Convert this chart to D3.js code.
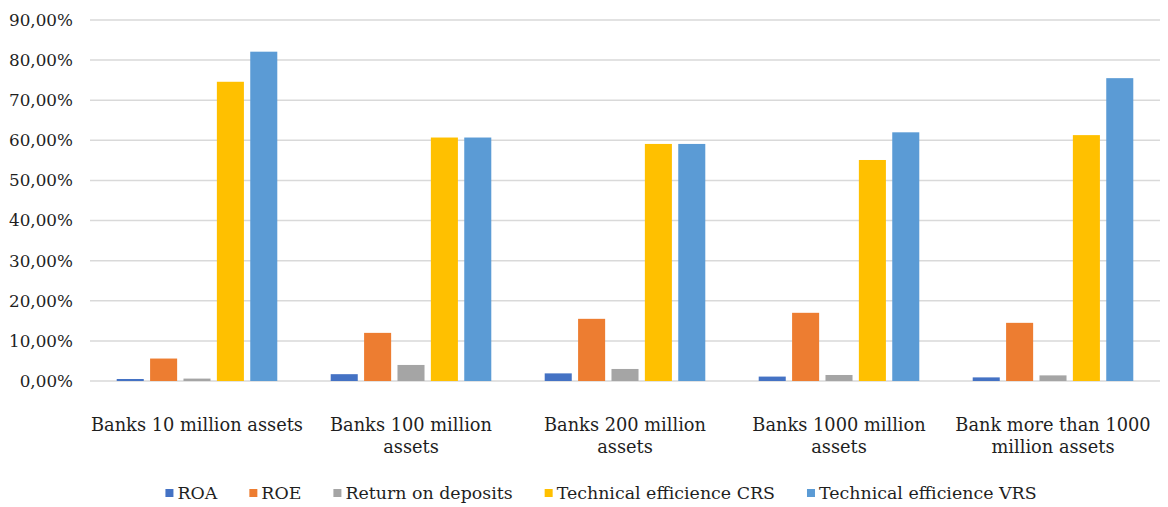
<!DOCTYPE html>
<html>
<head>
<meta charset="utf-8">
<script src="https://cdn.jsdelivr.net/npm/d3@7"></script>
<style>
  html, body { margin: 0; padding: 0; background: #fff; }
  svg text { font-family: "DejaVu Serif", serif; fill: #1f1f1f; }
</style>
</head>
<body>
<svg id="chart" width="1168" height="507"></svg>
<script>
const categories = ["Banks 10 million assets", "Banks 100 million assets", "Banks 200 million assets", "Banks 1000 million assets", "Bank more than 1000 million assets"];
const seriesNames = ["ROA", "ROE", "Return on deposits", "Technical efficience CRS", "Technical efficience VRS"];
const seriesColors = ["#4472C4", "#ED7D31", "#A5A5A5", "#FFC000", "#5B9BD5"];
const roa = [0.5, 1.7, 1.9, 1.1, 0.9];
const roe = [5.6, 12.0, 15.5, 17.0, 14.5];
const returnOnDeposits = [0.6, 4.0, 3.0, 1.5, 1.4];
const crs = [74.6, 60.7, 59.1, 55.1, 61.3];
const vrs = [82.1, 60.7, 59.1, 62.0, 75.5];
const yTicks = [0, 10, 20, 30, 40, 50, 60, 70, 80, 90];

const seriesValues = [roa, roe, returnOnDeposits, crs, vrs];

const svg = d3.select("#chart");
const m = { left: 90, right: 1160, top: 20, bottom: 381 };

const x0 = d3.scaleBand().domain(categories).range([m.left, m.right]).padding(0);
const x1 = d3.scaleBand().domain(seriesNames).range([0, x0.bandwidth()]).paddingInner(0.19).paddingOuter(0.8);
const y = d3.scaleLinear().domain([0, 90]).range([m.bottom, m.top]);

// gridlines
svg.append("g").selectAll("line").data(yTicks).join("line")
  .attr("x1", m.left).attr("x2", m.right)
  .attr("y1", d => y(d)).attr("y2", d => y(d))
  .attr("stroke", "#d9d9d9").attr("stroke-width", 1.5);

// y axis labels
const fmt = d => d3.format(".2f")(d).replace(".", ",") + "%";
const yAxis = d3.axisLeft(y).tickValues(yTicks).tickFormat(fmt).tickSize(0).tickPadding(17);
const yg = svg.append("g").attr("transform", `translate(${m.left},0)`).call(yAxis);
yg.select(".domain").remove();
yg.selectAll("text").attr("font-size", 16.8).attr("font-family", "DejaVu Serif").attr("fill", "#1f1f1f");

// bars
const groups = svg.append("g").selectAll("g").data(categories).join("g")
  .attr("transform", d => `translate(${x0(d)},0)`);
groups.selectAll("rect").data((c, ci) => seriesNames.map((s, si) => ({ s, si, v: seriesValues[si][ci] })))
  .join("rect")
  .attr("x", d => x1(d.s))
  .attr("width", x1.bandwidth())
  .attr("y", d => y(d.v))
  .attr("height", d => y(0) - y(d.v))
  .attr("fill", d => seriesColors[d.si]);

// category labels with wrapping
const catFont = 17.8;
const catG = svg.append("g");
categories.forEach(c => {
  const cx = x0(c) + x0.bandwidth() / 2;
  const t = catG.append("text").attr("text-anchor", "middle").attr("font-size", catFont);
  const words = c.split(" ");
  let lines = [], cur = [];
  const maxW = x0.bandwidth() + 2;
  const probe = catG.append("text").attr("font-size", catFont);
  words.forEach(w => {
    const test = cur.concat([w]).join(" ");
    probe.text(test);
    if (probe.node().getComputedTextLength() > maxW && cur.length) {
      lines.push(cur.join(" "));
      cur = [w];
    } else cur.push(w);
  });
  lines.push(cur.join(" "));
  probe.remove();
  lines.forEach((l, i) => {
    t.append("tspan").attr("x", cx).attr("y", 431 + i * 22).text(l);
  });
});

// legend
const legFont = 17.4;
const lg = svg.append("g");
let lx = 0;
seriesNames.forEach((s, i) => {
  const g = lg.append("g");
  g.append("rect").attr("x", lx).attr("y", -4).attr("width", 8).attr("height", 8).attr("fill", seriesColors[i]);
  const t = g.append("text").attr("x", lx + 12).attr("y", 0).attr("dy", "0.35em")
    .attr("font-size", legFont).text(s);
  const w = t.node().getComputedTextLength();
  lx += 12 + w + 32;
});
const totalW = lx - 32;
lg.attr("transform", `translate(${601 - totalW / 2},493)`);
</script>
</body>
</html>
